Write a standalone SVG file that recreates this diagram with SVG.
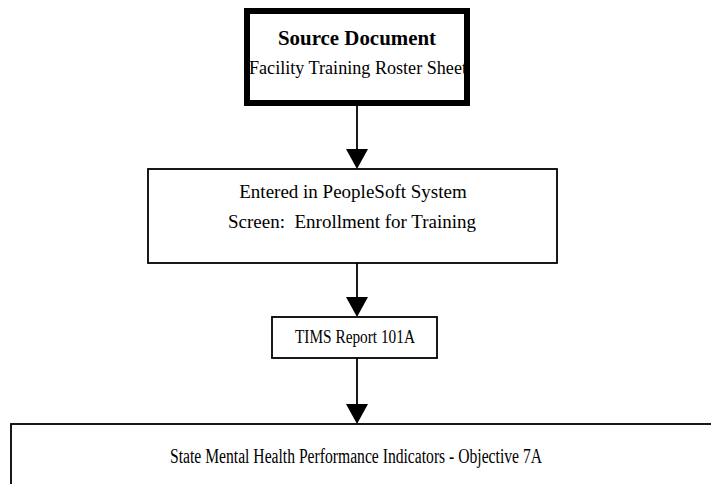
<svg xmlns="http://www.w3.org/2000/svg" width="711" height="484" viewBox="0 0 711 484">
<defs>
<style>
.box{fill:#fff;stroke:#000;stroke-width:1.8}
.t{font-family:"Liberation Serif","Times New Roman",serif;font-size:19px;fill:#000;text-anchor:middle}
.b{font-weight:bold;font-size:20px}
.c{stroke:#000;stroke-width:1.8;fill:none}
.ah{fill:#000}
</style>
</defs>
<rect width="711" height="484" fill="#fff"/>
<g id="connectors">
<line class="c" x1="357" y1="106" x2="357" y2="152"/>
<path class="ah" d="M346,149 L368,149 L357,169 Z"/>
<line class="c" x1="357" y1="263" x2="357" y2="300"/>
<path class="ah" d="M346,297 L368,297 L357,317 Z"/>
<line class="c" x1="357" y1="358" x2="357" y2="407"/>
<path class="ah" d="M346,404 L368,404 L357,424 Z"/>
</g>
<g id="n1">
<rect x="247" y="11" width="220" height="92" fill="#fff" stroke="#000" stroke-width="6"/>
<text class="t b" x="357" y="45" textLength="158" lengthAdjust="spacingAndGlyphs">Source Document</text>
<text class="t" x="358" y="74" textLength="218" lengthAdjust="spacingAndGlyphs">Facility Training Roster Sheet</text>
</g>
<g id="n2">
<rect class="box" x="148" y="169" width="409" height="94"/>
<text class="t" x="353" y="198">Entered in PeopleSoft System</text>
<text class="t" x="352" y="228" xml:space="preserve">Screen:  Enrollment for Training</text>
</g>
<g id="n3">
<rect class="box" x="272" y="317" width="165" height="41"/>
<text class="t" x="355" y="343" textLength="120" lengthAdjust="spacingAndGlyphs">TIMS Report 101A</text>
</g>
<g id="n4">
<rect class="box" x="11" y="424" width="720" height="80"/>
<text class="t" x="356" y="463" font-size="20" style="font-size:20px" textLength="372" lengthAdjust="spacingAndGlyphs">State Mental Health Performance Indicators - Objective 7A</text>
</g>
</svg>
